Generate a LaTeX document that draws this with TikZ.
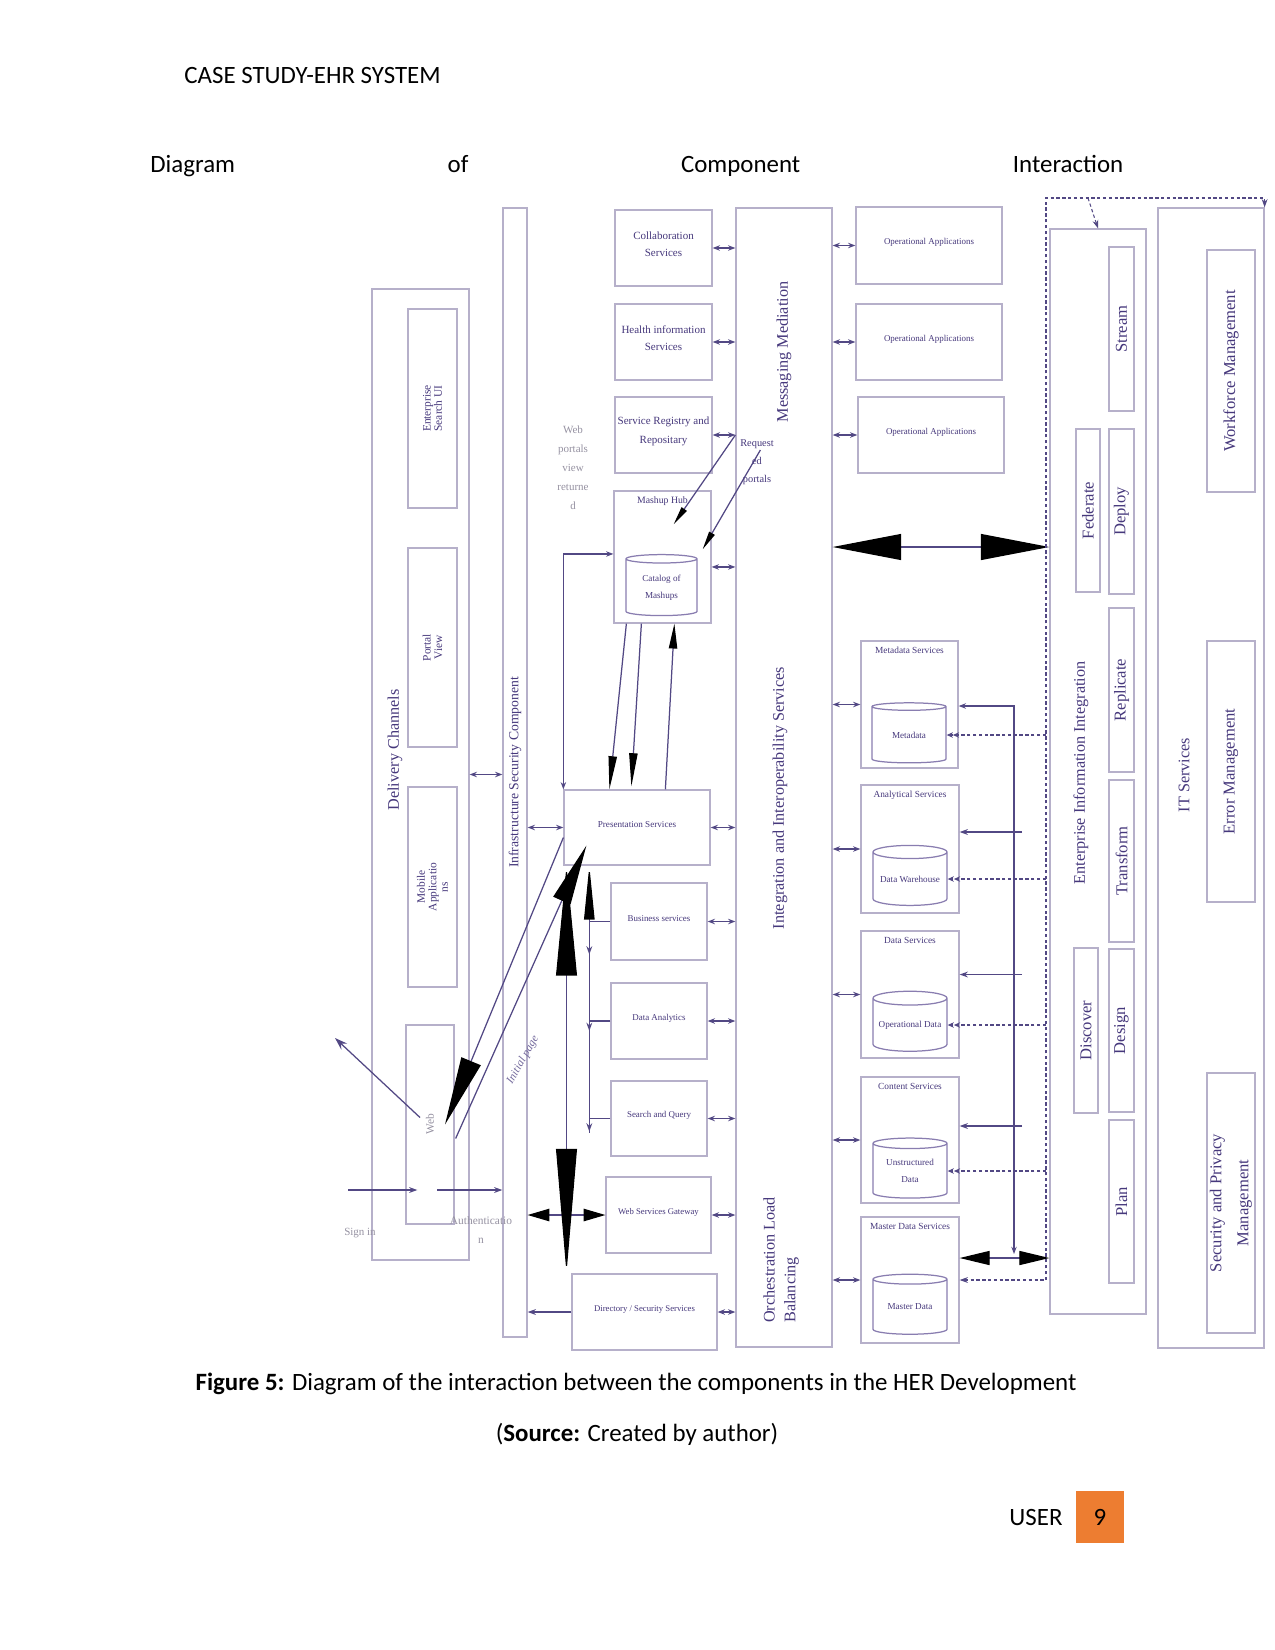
\documentclass[tikz,border=0pt]{standalone}
\usepackage{fontspec}
\setmainfont{Carlito}
\newfontfamily\diafont{Liberation Serif}
\usetikzlibrary{arrows.meta,positioning,shapes.geometric,fit,calc,shadows}

\definecolor{edgegray}{RGB}{182,176,202}
\definecolor{shadeline}{RGB}{98,82,150}
\definecolor{linkcol}{RGB}{82,72,132}
\definecolor{inkcol}{RGB}{70,56,124}
\definecolor{palecol}{RGB}{150,146,162}
\definecolor{pagebox}{RGB}{237,125,49}

\newcommand{\dfs}[2]{\diafont\fontsize{#1}{#2}\selectfont}
\newcommand{\pxu}{0.016933cm}

\begin{document}
\begin{tikzpicture}[
    x=\pxu, y=-\pxu,
    box/.style={draw=edgegray, fill=white, line width=0.6pt, inner sep=0pt, align=center, text=inkcol,
      drop shadow={shadow xshift=0.7pt, shadow yshift=-0.7pt, fill=shadeline, opacity=1}},
    db/.style={cylinder, shape border rotate=90, aspect=0.22, draw=shadeline!75, fill=white, line width=0.6pt,
      minimum width=74*\pxu, minimum height=60*\pxu, inner sep=0pt, align=center, text=inkcol, font=\dfs{4.4}{8}},
    biglbl/.style={rotate=90, text=inkcol, font=\dfs{7.8}{9}, inner sep=0pt},
    vlbl/.style={rotate=90, text=inkcol, font=\dfs{8}{6.5}, inner sep=0pt, align=center},
    sublbl/.style={rotate=90, text=inkcol, font=\dfs{5.5}{5.5}, align=center, inner sep=0pt},
    toplbl/.style={anchor=north, text=inkcol, font=\dfs{4.5}{5}, inner sep=3pt},
    notetext/.style={text=palecol, font=\dfs{5.3}{9.2}, align=center, inner sep=0pt},
    duo/.style={draw=linkcol, line width=0.6pt, {Stealth[length=3.5pt,width=2.6pt]}-{Stealth[length=3.5pt,width=2.6pt]}},
    arr/.style={draw=linkcol, line width=0.6pt, -{Stealth[length=4pt,width=2.8pt]}},
    dline/.style={draw=linkcol, line width=0.5pt, dash pattern=on 1.6pt off 1.2pt},
    hugeduo/.style 2 args={draw=linkcol, line width=0.6pt, {Triangle[length=#1,width=#2,color=black]}-{Triangle[length=#1,width=#2,color=black]}},
    hugetip/.style 2 args={draw=linkcol, line width=0.6pt, -{Triangle[length=#1,width=#2,color=black]}},
    pagetext/.style={font=\fontsize{12}{14}\selectfont, inner sep=0pt}
  ]
  \fill[white] (0,0) rectangle (1275,1650);
  \useasboundingbox (0,0) rectangle (1275,1650);

  % page text
  \node[pagetext, anchor=west] (running) at (184,76) {CASE STUDY-EHR SYSTEM};
  \node[pagetext, anchor=west] (title) at (150,166) {\hbox to 16.476cm{Diagram\hfill of\hfill Component\hfill Interaction}};
  \node[pagetext] (caption) at (636,1384) {\textbf{Figure 5:} Diagram of the interaction between the components in the HER Development};
  \node[pagetext] (source) at (637,1434) {(\textbf{Source:} Created by author)};
  \node[pagetext, anchor=east] (user) at (1063,1517) {USER};
  \node[pagetext, fill=pagebox, minimum width=48*\pxu, minimum height=52*\pxu] (pnum) at (1100,1517) {9};

  % containers
  \node[box, fit={(372,289) (469,1260)}] (dchan) {};
  \node[box, fit={(503,208) (527,1337)}] (secbar) {};
  \node[box, fit={(736,208) (832,1347)}] (integ) {};
  \node[box, fit={(1050,229) (1146,1314)}] (eii) {};
  \node[box, fit={(1158,208) (1264,1348)}] (itsvc) {};
  \node[biglbl] (dchanlbl) at (395,750) {Delivery Channels};
  \node[biglbl, font=\dfs{6.6}{7}] (seclbl) at (secbar.center) {Infrastructure Security Component};
  \node[biglbl] (msglbl) at (784,352) {Messaging Mediation};
  \node[biglbl] (intlbl) at (780,798) {Integration and Interoperability Services};
  \node[biglbl, align=left, font=\dfs{7.8}{10}] (orchlbl) at (781,1260) {Orchestration Load\\Balancing};
  \node[biglbl] (eiilbl) at (1081,773) {Enterprise Information Integration};
  \node[biglbl] (itlbl) at (1184,775) {IT Services};

  % delivery channels
  \node[box, fit={(408,309) (457,508)}, label={[sublbl]center:Enterprise\\Search UI}] (esui) {};
  \node[box, fit={(408,548) (457,747)}, label={[sublbl]center:Portal\\View}] (pview) {};
  \node[box, fit={(408,787) (457,987)}, label={[sublbl]center:Mobile\\Applicatio\\ns}] (mobile) {};
  \node[box, fit={(406,1025) (454,1224)}, label={[sublbl, text=palecol]center:Web}] (web) {};

  % services
  \node[box, fit={(615,210) (712,286)}, font=\dfs{5.3}{8.6}] (collab) {Collaboration\\Services};
  \node[box, fit={(615,304) (712,380)}, font=\dfs{5.3}{8.6}] (health) {Health information\\Services};
  \node[box, fit={(615,397) (712,473)}, font=\dfs{5.3}{9.4}] (registry) {Service Registry and\\Repositary};
  \node[box, fit={(614,491) (711,623)}, label={[toplbl, font=\dfs{4.7}{5}]north:Mashup Hub}] (mashup) {};
  \node[db, minimum width=71*\pxu, minimum height=61*\pxu] (catalog) at (661.5,587.5) {Catalog of\\Mashups};
  \node[box, fit={(564,790) (710,865)}, font=\dfs{4.4}{5}] (present) {Presentation Services};
  \node[box, fit={(611,883) (707,960)}, font=\dfs{4.3}{5}] (business) {Business services};
  \node[box, fit={(611,983) (707,1059)}, font=\dfs{4.3}{5}] (danalytics) {Data Analytics};
  \node[box, fit={(611,1081) (707,1156)}, font=\dfs{4.3}{5}] (squery) {Search and Query};
  \node[box, fit={(606,1177) (711,1253)}, font=\dfs{4.2}{5}] (wsg) {Web Services Gateway};
  \node[box, fit={(572,1274) (717,1350)}, font=\dfs{4.2}{5}] (directory) {Directory / Security Services};

  % applications and data
  \node[box, fit={(856,207) (1002,284)}, font=\dfs{4.3}{5}] (opapp1) {Operational Applications};
  \node[box, fit={(856,304) (1002,380)}, font=\dfs{4.3}{5}] (opapp2) {Operational Applications};
  \node[box, fit={(858,397) (1004,473)}, font=\dfs{4.3}{5}] (opapp3) {Operational Applications};
  \node[box, fit={(861,641) (958,768)}, label={[toplbl]north:Metadata Services}] (metasvc) {};
  \node[db] (metadb) at (909,735) {Metadata};
  \node[box, fit={(861,785) (959,913)}, label={[toplbl]north:Analytical Services}] (analyt) {};
  \node[db] (dwh) at (910,879) {Data Warehouse};
  \node[box, fit={(861,931) (959,1058)}, label={[toplbl]north:Data Services}] (datasvc) {};
  \node[db] (opdata) at (910,1025) {Operational Data};
  \node[box, fit={(861,1077) (959,1203)}, label={[toplbl]north:Content Services}] (content) {};
  \node[db] (unstruct) at (910,1171) {Unstructured\\Data};
  \node[box, fit={(861,1217) (959,1343)}, label={[toplbl]north:Master Data Services}] (master) {};
  \node[db] (masterdb) at (910,1307) {Master Data};

  % integration steps
  \node[box, fit={(1109,247) (1134,411)}, label={[vlbl]center:Stream}] (stream) {};
  \node[box, fit={(1076,429) (1100,592)}, label={[vlbl]center:Federate}] (federate) {};
  \node[box, fit={(1109,429) (1134,594)}, label={[vlbl]center:Deploy}] (deploy) {};
  \node[box, fit={(1109,608) (1134,772)}, label={[vlbl]center:Replicate}] (replicate) {};
  \node[box, fit={(1109,780) (1134,942)}, label={[vlbl]center:Transform}] (transform) {};
  \node[box, fit={(1074,948) (1098,1113)}, label={[vlbl]center:Discover}] (discover) {};
  \node[box, fit={(1109,949) (1134,1112)}, label={[vlbl]center:Design}] (design) {};
  \node[box, fit={(1109,1120) (1134,1283)}, label={[vlbl]center:Plan}] (plan) {};

  % IT services
  \node[box, fit={(1207,250) (1255,492)}, label={[vlbl]center:Workforce Management}] (workforce) {};
  \node[box, fit={(1207,641) (1255,902)}, label={[vlbl]center:Error Management}] (errmgmt) {};
  \node[box, fit={(1207,1073) (1255,1333)}, label={[vlbl, font=\dfs{8}{13}]center:Security and Privacy\\Management}] (secpriv) {};

  % links to the integration bus
  \foreach \svc in {collab,health,registry,present,business,danalytics,squery,wsg,directory}
    \draw[duo] (\svc.east) -- (\svc.east -| integ.west);
  \coordinate (mashport) at ([yshift=-4.8pt]mashup.east);
  \draw[duo] (mashport) -- (mashport -| integ.west);
  \foreach \svc in {opapp1,opapp2,opapp3,metasvc,analyt,datasvc,content,master}
    \draw[duo] (integ.east |- \svc.west) -- (\svc.west);

  % security bar
  \draw[duo] (dchan.east) -- (dchan.east -| secbar.west);
  \draw[duo] (present.west -| secbar.east) -- (present.west);
  \draw[arr] (directory.west) -- (directory.west -| secbar.east);
  \draw[hugeduo={10.5pt}{6pt}] (wsg.west -| secbar.east) -- (wsg.west);
  \coordinate (spine) at ([xshift=1.5pt]present.south west);
  \draw[draw=linkcol, line width=0.6pt, {Triangle[length=53pt,width=10pt,color=black]}-{Triangle[length=60pt,width=10pt,color=black]}]
    (spine) -- (spine |- directory.north);

  % presentation trunk
  \coordinate (trunk) at ([xshift=12.5pt]present.south west);
  \draw[hugetip={26pt}{5pt}] ($(trunk |- squery.west)+(0,14)$) -- (trunk);
  \foreach \svc/\drop in {business/33,danalytics/10,squery/13}
    \draw[arr] (\svc.west) -- (\svc.west -| trunk) -- ++(0,\drop);

  % mashup hub
  \draw[duo] (present.north west) -- (present.north west |- catalog.north) -- (catalog.north -| mashup.west);
  \draw[hugetip={16pt}{4pt}] ($(mashup.south west)+(13,0)$) -- ($(present.north west)+(46,0)$);
  \draw[hugetip={16pt}{4pt}] ($(mashup.south west)+(28,0)$) -- ($(present.north west)+(68,-3)$);
  \draw[hugetip={12pt}{4pt}] ($(present.north west)+(102,0)$) -- ($(mashup.south west)+(61,0)$);
  \draw[hugetip={9pt}{3pt}] (integ.west |- registry.east) -- ($(mashup.north east)+(-38,34)$);
  \draw[hugetip={9pt}{3pt}] ($(integ.west |- registry.east)+(25,15)$) -- ($(mashup.north east)+(-9,59)$);
  \node[notetext] (portalnote) at (573,468) {Web\\portals\\view\\returne\\d};
  \node[notetext, text=inkcol, font=\dfs{5}{8.6}] (reqnote) at (757,462) {Request\\ed\\portals};

  % integration layer
  \coordinate (hub) at (940,547);
  \draw[hugeduo={33pt}{12.5pt}] (hub -| integ.east) -- (hub -| eii.west);
  \coordinate (feed) at (1014,706);
  \coordinate (mbus) at (1000,1258);
  \draw[duo] ($(feed |- mbus)+(0,-4)$) -- (feed) -- (feed -| metasvc.east);
  \foreach \svc/\up in {analyt/17,datasvc/20,content/14}
    \draw[arr] ($(\svc.east -| feed)+(8,-\up)$) -- ($(\svc.east)+(0,-\up)$);
  \draw[hugeduo={14.5pt}{6.8pt}] (master.east |- mbus) -- (eii.west |- mbus);
  \coordinate (dtop) at (1046,198);
  \draw[dline, {Stealth[length=4pt,width=2.8pt]}-{Stealth[length=4pt,width=2.8pt]}] (master.east) -| (dtop) -| (itsvc.north east);
  \draw[dline, -{Stealth[length=4pt,width=2.8pt]}] ($(dtop)+(42,0)$) -- (eii.north);
  \foreach \db in {metadb,dwh,opdata,unstruct}
    \draw[dline, -{Stealth[length=3pt,width=2.6pt] Stealth[length=3pt,width=2.6pt]}] (\db.east -| dtop) -- (\db.east);

  % web channel
  \draw[hugetip={33pt}{10pt}] ($(present.west)+(0,10)$) -- ($(web.center)+(15,0)$);
  \draw[hugetip={29pt}{9pt}] ($(web.east)+(1,14)$) -- ($(present.south west)+(23,-20)$);
  \node[notetext, text=inkcol!75, font=\diafont\itshape\fontsize{5.5}{6}\selectfont, rotate=60] (initnote) at (523,1060) {Initial page};
  \coordinate (exitpt) at (335,1038);
  \draw[draw=linkcol, line width=0.6pt, -{Stealth[length=6pt,width=4pt]}] ($(web.center)+(-10,-7)$) -- (exitpt);
  \coordinate (signpt) at (348,1190);
  \draw[arr] (signpt) -- ($(signpt -| web.west)+(12,0)$);
  \draw[arr] ($(signpt -| web.center)+(7,0)$) -- (signpt -| secbar.west);
  \node[notetext] (signnote) at (360,1233) {Sign in};
  \node[notetext, font=\dfs{5.5}{9.5}] (authnote) at (481,1230) {Authenticatio\\n};
\end{tikzpicture}
\end{document}
